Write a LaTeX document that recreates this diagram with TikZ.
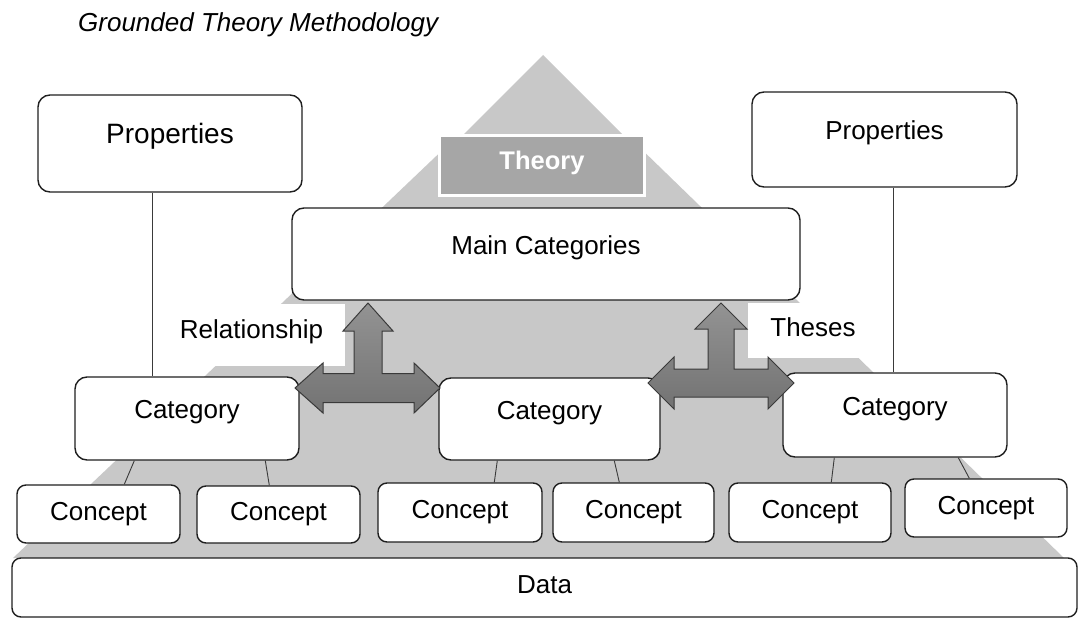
\documentclass[tikz,border=0pt]{standalone}
\usepackage{fontspec}
\setmainfont{Liberation Sans}
\definecolor{layergray}{HTML}{C8C8C8}
\definecolor{theorygray}{HTML}{A6A6A6}
\definecolor{arrowgray}{HTML}{878787}
\definecolor{edgegray}{HTML}{3A3A3A}
\begin{document}
\begin{tikzpicture}[x=1pt,y=-1pt,
  txt/.style={font=\fontsize{26}{30}\selectfont},
  box/.style={txt, draw=black!88, line width=1.4pt, fill=white, inner sep=0pt, rounded corners=12pt},
  smallbox/.style={box, rounded corners=9pt},
  mid/.style={text height=10pt, text depth=10pt},
  layer/.style={fill=layergray, draw=none},
  link/.style={draw=edgegray, line width=0.9pt},
  labelbox/.style={txt, fill=white, draw=none, inner sep=0pt},
  arrowsty/.style={top color=arrowgray!90!white, bottom color=arrowgray!85!black, draw=edgegray, line width=1pt, line join=miter}
]
\useasboundingbox (0,0) rectangle (1084,626);

% title
\node[anchor=base west, font=\fontsize{26}{30}\selectfont\itshape, inner sep=0pt] (title) at (78,32) {Grounded Theory Methodology};

% pyramid layers
\fill[layer] (543,55) -- (625,137) -- (461,137) -- cycle;
\fill[layer] (452,141) -- (633,141) -- (800,303) -- (282,303) -- cycle;
\fill[layer] (282,303) -- (802,303) -- (1064,558) -- (13,558) -- cycle;

% theory box
\node[txt, font=\fontsize{25.5}{30}\selectfont\bfseries, text=white, fill=theorygray, draw=white, line width=3pt,
      minimum width=205pt, minimum height=60pt, inner sep=0pt, text height=18pt, text depth=10pt] (theory) at (542,165.5) {Theory};

% label boxes
\node[labelbox, minimum width=187pt, minimum height=62pt, text height=10pt, text depth=3pt] (rel) at (251.5,335) {Relationship};
\node[labelbox, minimum width=130pt, minimum height=55pt, text height=12pt, text depth=0pt] (theses) at (813,330.5) {Theses};

% boxes
\node[box, mid, minimum width=264pt, minimum height=97pt, font=\fontsize{28}{32}\selectfont] (propL) at (170,143.5) {Properties};
\node[box, mid, minimum width=265pt, minimum height=95pt] (propR) at (884.5,139.5) {Properties};
\node[box, mid, minimum width=508pt, minimum height=92pt] (main) at (546,254) {Main Categories};

\node[box, mid, minimum width=224pt, minimum height=83pt] (catL) at (187,418.5) {Category};
\node[box, mid, minimum width=221pt, minimum height=82pt] (catM) at (549.5,419) {Category};
\node[box, mid, minimum width=224pt, minimum height=84pt] (catR) at (895,415) {Category};

\node[smallbox, minimum width=163pt, minimum height=58pt] (c1) at (98.5,514) {Concept};
\node[smallbox, minimum width=163pt, minimum height=57pt] (c2) at (278.5,514.5) {Concept};
\node[smallbox, minimum width=164pt, minimum height=59pt] (c3) at (460,512.5) {Concept};
\node[smallbox, minimum width=161pt, minimum height=59pt] (c4) at (633.5,512.5) {Concept};
\node[smallbox, minimum width=162pt, minimum height=59pt] (c5) at (810,512.5) {Concept};
\node[smallbox, minimum width=162pt, minimum height=58pt] (c6) at (986,508) {Concept};

\node[smallbox, minimum width=1065pt, minimum height=59pt, text depth=5pt] (data) at (544.5,587.5) {Data};

% connectors
\draw[link] ([xshift=115pt]propL.south west) -- ([xshift=78pt]catL.north west);
\draw[link] ([xshift=142pt]propR.south west) -- ([xshift=111pt]catR.north west);
\draw[link] ([xshift=60pt]catL.south west) -- ([xshift=108pt]c1.north west);
\draw[link] ([xshift=191pt]catL.south west) -- ([xshift=73pt]c2.north west);
\draw[link] ([xshift=59pt]catM.south west) -- ([xshift=117pt]c3.north west);
\draw[link] ([xshift=176pt]catM.south west) -- ([xshift=67pt]c4.north west);
\draw[link] ([xshift=52pt]catR.south west) -- ([xshift=103pt]c5.north west);
\draw[link] ([xshift=176pt]catR.south west) -- ([xshift=65pt]c6.north west);

% three-way arrows
\draw[arrowsty, shift={(368,388)}] (0,-85) -- (25,-57) -- (14,-57) -- (14,-14.5) -- (46,-14.5) -- (46,-25) -- (72,0) -- (46,25) -- (46,14.5) -- (-45,14.5) -- (-45,25) -- (-73,0) -- (-45,-25) -- (-45,-14.5) -- (-14,-14.5) -- (-14,-57) -- (-25,-57) -- cycle;
\draw[arrowsty, shift={(721,383)}] (0,-80) -- (26,-54) -- (13,-54) -- (13,-14) -- (47,-14) -- (47,-26) -- (73,0) -- (47,26) -- (47,14) -- (-47,14) -- (-47,26) -- (-73,0) -- (-47,-26) -- (-47,-14) -- (-13,-14) -- (-13,-54) -- (-26,-54) -- cycle;
\end{tikzpicture}
\end{document}
